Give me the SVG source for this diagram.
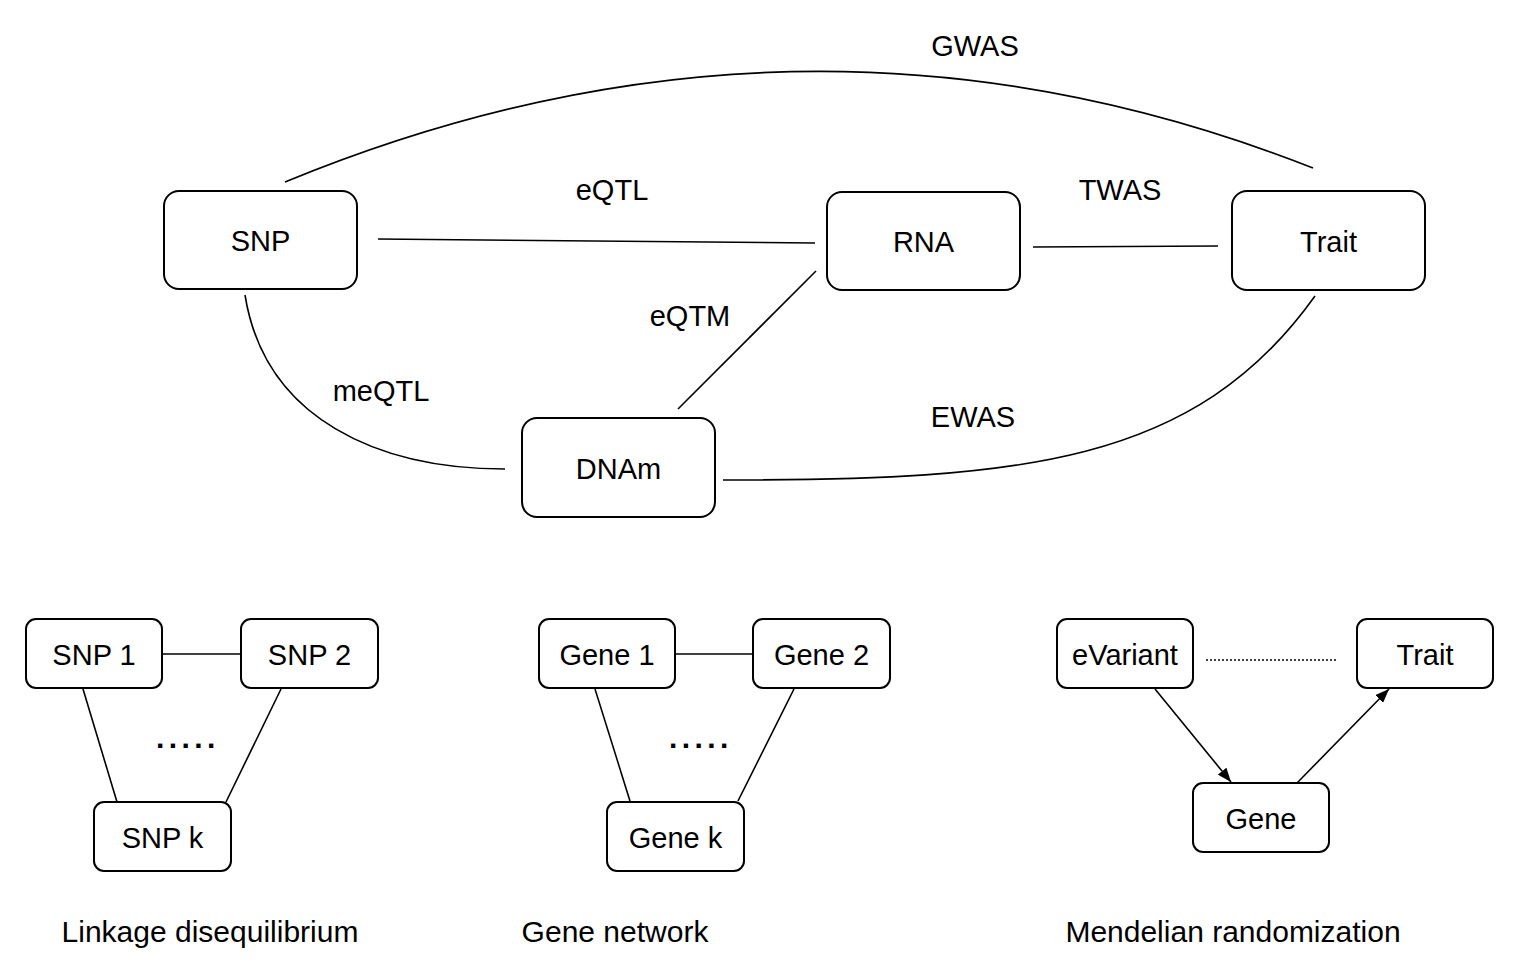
<svg xmlns="http://www.w3.org/2000/svg" width="1519" height="980" viewBox="0 0 1519 980">
<style>
.box{fill:#fff;stroke:#000;stroke-width:2}
.lbl{font-family:"Liberation Sans",Arial,sans-serif;font-size:29px;fill:#000;text-anchor:middle}
.cap{font-family:"Liberation Sans",Arial,sans-serif;font-size:30px;fill:#000;text-anchor:middle}
.edge{fill:none;stroke:#000;stroke-width:1.6}
.dots{font-family:"Liberation Sans",Arial,sans-serif;font-size:30px;font-weight:bold;letter-spacing:4.4px;fill:#000}
</style>
<defs>
<marker id="arr" viewBox="0 0 14 11" refX="14" refY="5.5" markerWidth="14" markerHeight="11" markerUnits="userSpaceOnUse" orient="auto">
<path d="M0,0 L14,5.5 L0,11 Z" fill="#000"/>
</marker>
</defs>
<rect width="1519" height="980" fill="#fff"/>
<g id="connectors">
<path class="edge" d="M285,182 Q805,-32 1313,168"/>
<line class="edge" x1="378" y1="239" x2="815" y2="243"/>
<line class="edge" x1="1033" y1="247" x2="1218" y2="246"/>
<line class="edge" x1="816" y1="271" x2="678" y2="409"/>
<path class="edge" d="M245,295 C265,420 380,469 505,469"/>
<path class="edge" d="M723,480 C1023,480 1195,464 1315,296"/>
<line class="edge" x1="163" y1="654" x2="241" y2="654"/>
<line class="edge" x1="83" y1="689" x2="117" y2="802"/>
<line class="edge" x1="281" y1="689" x2="226" y2="802"/>
<line class="edge" x1="675" y1="654" x2="753" y2="654"/>
<line class="edge" x1="595" y1="689" x2="630" y2="801"/>
<line class="edge" x1="794" y1="689" x2="738" y2="801"/>
<line class="edge" x1="1206" y1="660" x2="1337" y2="660" stroke-dasharray="2 2"/>
<line class="edge" x1="1155" y1="689" x2="1231" y2="782" marker-end="url(#arr)"/>
<line class="edge" x1="1297" y1="783" x2="1389" y2="689" marker-end="url(#arr)"/>
</g>
<g id="edge-labels">
<text class="lbl" x="975" y="56">GWAS</text>
<text class="lbl" x="612" y="200">eQTL</text>
<text class="lbl" x="1120" y="200">TWAS</text>
<text class="lbl" x="690" y="326">eQTM</text>
<text class="lbl" x="381" y="401">meQTL</text>
<text class="lbl" x="973" y="427">EWAS</text>
</g>
<g id="node-snp"><rect class="box" x="164" y="191" width="193" height="98" rx="15"/><text class="lbl" x="260.5" y="251">SNP</text></g>
<g id="node-rna"><rect class="box" x="827" y="192" width="193" height="98" rx="15"/><text class="lbl" x="923.5" y="252">RNA</text></g>
<g id="node-trait"><rect class="box" x="1232" y="191" width="193" height="99" rx="15"/><text class="lbl" x="1328.5" y="252">Trait</text></g>
<g id="node-dnam"><rect class="box" x="522" y="418" width="193" height="99" rx="15"/><text class="lbl" x="618.5" y="479">DNAm</text></g>
<g id="node-snp1"><rect class="box" x="26" y="619" width="136" height="69" rx="10"/><text class="lbl" x="94" y="665">SNP 1</text></g>
<g id="node-snp2"><rect class="box" x="241" y="619" width="137" height="69" rx="10"/><text class="lbl" x="309.5" y="665">SNP 2</text></g>
<g id="node-snpk"><rect class="box" x="94" y="802" width="137" height="69" rx="10"/><text class="lbl" x="162.5" y="848">SNP k</text></g>
<g id="node-gene1"><rect class="box" x="539" y="619" width="136" height="69" rx="10"/><text class="lbl" x="607" y="665">Gene 1</text></g>
<g id="node-gene2"><rect class="box" x="753" y="619" width="137" height="69" rx="10"/><text class="lbl" x="821.5" y="665">Gene 2</text></g>
<g id="node-genek"><rect class="box" x="607" y="802" width="137" height="69" rx="10"/><text class="lbl" x="675.5" y="848">Gene k</text></g>
<g id="node-evariant"><rect class="box" x="1057" y="619" width="136" height="69" rx="10"/><text class="lbl" x="1125" y="665">eVariant</text></g>
<g id="node-trait2"><rect class="box" x="1357" y="619" width="136" height="69" rx="10"/><text class="lbl" x="1425" y="665">Trait</text></g>
<g id="node-gene"><rect class="box" x="1193" y="783" width="136" height="69" rx="10"/><text class="lbl" x="1261" y="829">Gene</text></g>
<g id="ellipses">
<text class="dots" x="156" y="748">.....</text>
<text class="dots" x="669" y="748">.....</text>
</g>
<g id="captions">
<text class="cap" x="210" y="942">Linkage disequilibrium</text>
<text class="cap" x="615" y="942">Gene network</text>
<text class="cap" x="1233" y="942">Mendelian randomization</text>
</g>
</svg>
